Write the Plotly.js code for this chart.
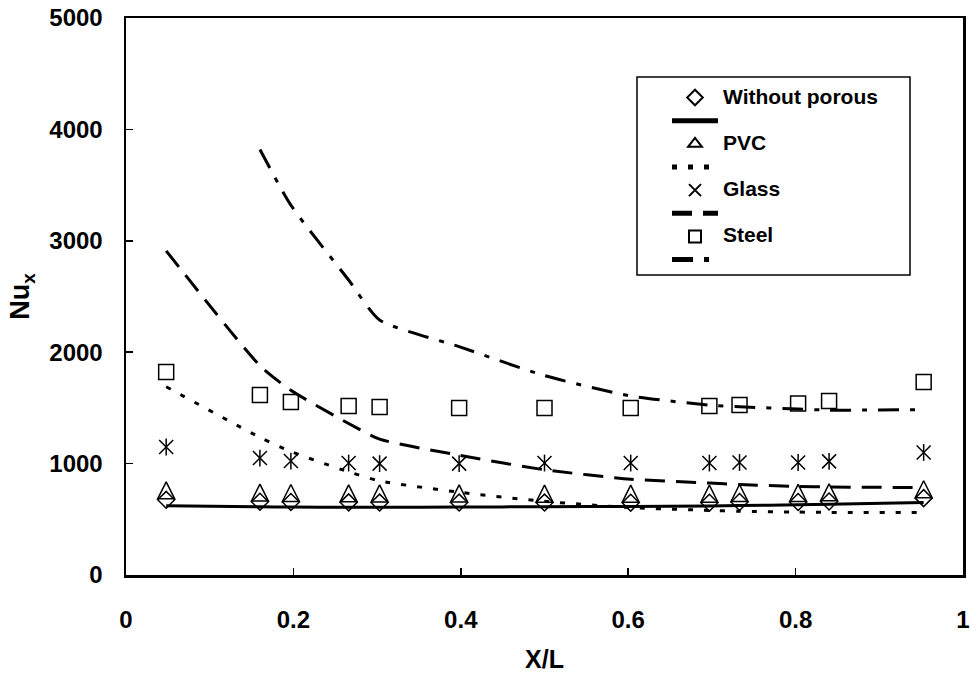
<!DOCTYPE html>
<html>
<head>
<meta charset="utf-8">
<script src="https://cdn.plot.ly/plotly-3.0.1.min.js"></script>
<style>
  html, body { margin: 0; padding: 0; background: #ffffff; }
  #chart { width: 970px; height: 675px; }
</style>
</head>
<body>
<div id="chart"></div>
<script>
// X/L positions of the measurement stations
var xPositions = [0.048, 0.16, 0.197, 0.266, 0.303, 0.398, 0.5, 0.603, 0.697, 0.733, 0.803, 0.84, 0.953];

// Experimental Nu_x (markers)
var withoutPorousExp = [675, 658, 655, 652, 650, 650, 650, 649, 649, 655, 655, 660, 690];
var pvcExp           = [760, 740, 736, 733, 732, 732, 730, 730, 730, 736, 737, 742, 770];
var glassExp         = [1149, 1050, 1023, 1005, 1000, 1000, 1005, 1005, 1005, 1010, 1010, 1020, 1100];
var steelExp         = [1822, 1616, 1553, 1517, 1508, 1499, 1499, 1499, 1517, 1526, 1540, 1562, 1733];

// Correlation / model curves (lines)
var withoutPorousLine = [622, 613, 610, 608, 608, 610, 613, 616, 620, 624, 630, 634, 650];
var pvcLine           = [1690, 1236, 1108, 926, 845, 743, 661, 605, 580, 572, 565, 562, 560];
var glassLine         = [2910, 1880, 1658, 1360, 1220, 1075, 945, 860, 825, 812, 795, 790, 785];
var steelLine         = [null, 3820, 3320, 2648, 2289, 2050, 1790, 1607, 1525, 1510, 1490, 1480, 1485];

// Labels
var seriesNames = ['Without porous', 'PVC', 'Glass', 'Steel'];
var xTickVals = [0, 0.2, 0.4, 0.6, 0.8, 1];
var xTickText = ['0', '0.2', '0.4', '0.6', '0.8', '1'];
var yTickVals = [0, 1000, 2000, 3000, 4000, 5000];
var yTickText = ['0', '1000', '2000', '3000', '4000', '5000'];

var FONT = 'Liberation Sans, Arial, Helvetica, sans-serif';
var BLANK = '\u00a0';
function legName(s) { return '<span style="font-size:21px">' + s + '</span>'; }

function mk(extra) {
  return Object.assign({color: '#000', line: {color: '#000', width: 1.5}}, extra);
}
var LINE_SHAPE = 'spline';
var SMOOTH = 0.6;

var traces = [
  {x: xPositions, y: withoutPorousExp, mode: 'markers', name: legName(seriesNames[0]),
   marker: mk({symbol: 'diamond-open', size: 13})},
  {x: xPositions, y: withoutPorousLine, mode: 'lines', name: BLANK,
   line: {color: '#000', width: 3, shape: LINE_SHAPE, smoothing: SMOOTH}},
  // legend key for PVC (no points of its own)
  {x: [null], y: [null], mode: 'markers', name: legName(seriesNames[1]), hoverinfo: 'skip',
   marker: mk({symbol: 'triangle-up-open', size: 12})},
  {x: xPositions, y: pvcLine, mode: 'lines', name: BLANK,
   line: {color: '#000', width: 3, dash: '5px,11px', shape: LINE_SHAPE, smoothing: SMOOTH}},
  {x: xPositions, y: glassExp, mode: 'markers', name: legName(seriesNames[2]),
   marker: mk({symbol: 'x-thin-open', size: 14})},
  {x: xPositions, y: glassLine, mode: 'lines', name: BLANK,
   line: {color: '#000', width: 3, dash: '20px,11px', shape: LINE_SHAPE, smoothing: SMOOTH}},
  {x: xPositions, y: steelExp, mode: 'markers', name: legName(seriesNames[3]),
   marker: mk({symbol: 'square-open', size: 15})},
  {x: xPositions, y: steelLine, mode: 'lines', name: BLANK, connectgaps: false,
   line: {color: '#000', width: 3, dash: '21px,11px,5px,11px', shape: LINE_SHAPE, smoothing: SMOOTH}},
  // PVC measured points (tall triangles)
  {x: xPositions, y: pvcExp, mode: 'markers', showlegend: false, hoverinfo: 'skip',
   marker: mk({symbol: 'arrow-down-open', angle: 180, standoff: 8.5, size: 17})},
  // vertical stroke completing the glass asterisk
  {x: xPositions, y: glassExp, mode: 'markers', showlegend: false, hoverinfo: 'skip',
   marker: mk({symbol: 'line-ns-open', size: 12})}
];

var L = 126, R = 7, T = 18, B = 100;
var plotW = 970 - L - R, plotH = 675 - T - B;

var layout = {
  width: 970, height: 675,
  margin: {l: L, r: R, t: T, b: B, pad: 0},
  paper_bgcolor: '#ffffff', plot_bgcolor: '#ffffff',
  font: {family: FONT, color: '#000', size: 16},
  showlegend: true,
  xaxis: {
    range: [0, 1], tickvals: xTickVals, ticktext: xTickText,
    ticks: 'inside', ticklen: 7, tickwidth: 1.5, tickcolor: '#000',
    showline: true, linewidth: 2.5, linecolor: '#000', mirror: true,
    showgrid: false, zeroline: false, ticklabeloverflow: 'allow',
    tickfont: {family: FONT, size: 24, weight: 'bold', color: '#000'},
    ticklabelstandoff: 22,
    title: {text: 'X/L', font: {family: FONT, size: 25, weight: 'bold', color: '#000'}, standoff: 18}
  },
  yaxis: {
    range: [0, 5000], tickvals: yTickVals, ticktext: yTickText,
    ticks: 'inside', ticklen: 7, tickwidth: 1.5, tickcolor: '#000',
    showline: true, linewidth: 2.5, linecolor: '#000', mirror: true,
    showgrid: false, zeroline: false, ticklabeloverflow: 'allow',
    tickfont: {family: FONT, size: 24, weight: 'bold', color: '#000'},
    ticklabelstandoff: 16,
    title: {text: 'Nu<sub>x</sub>', font: {family: FONT, size: 27, weight: 'bold', color: '#000'}, standoff: 12}
  },
  legend: {
    x: (667 - L) / plotW, xanchor: 'left',
    y: 0.887, yanchor: 'top',
    bgcolor: 'rgba(0,0,0,0)', borderwidth: 0,
    font: {family: FONT, size: 15.5, weight: 'bold', color: '#000'},
    itemwidth: 46, itemsizing: 'constant', tracegroupgap: 0,
    traceorder: 'normal'
  },
  shapes: [{
    type: 'rect', xref: 'paper', yref: 'paper',
    x0: (637 - L) / plotW, x1: (910 - L) / plotW,
    y0: (575 - 275) / plotH, y1: (575 - 77) / plotH,
    line: {color: '#000', width: 1.5}, fillcolor: 'rgba(0,0,0,0)', layer: 'below'
  }]
};

Plotly.newPlot('chart', traces, layout, {staticPlot: true, displayModeBar: false});
</script>
</body>
</html>
